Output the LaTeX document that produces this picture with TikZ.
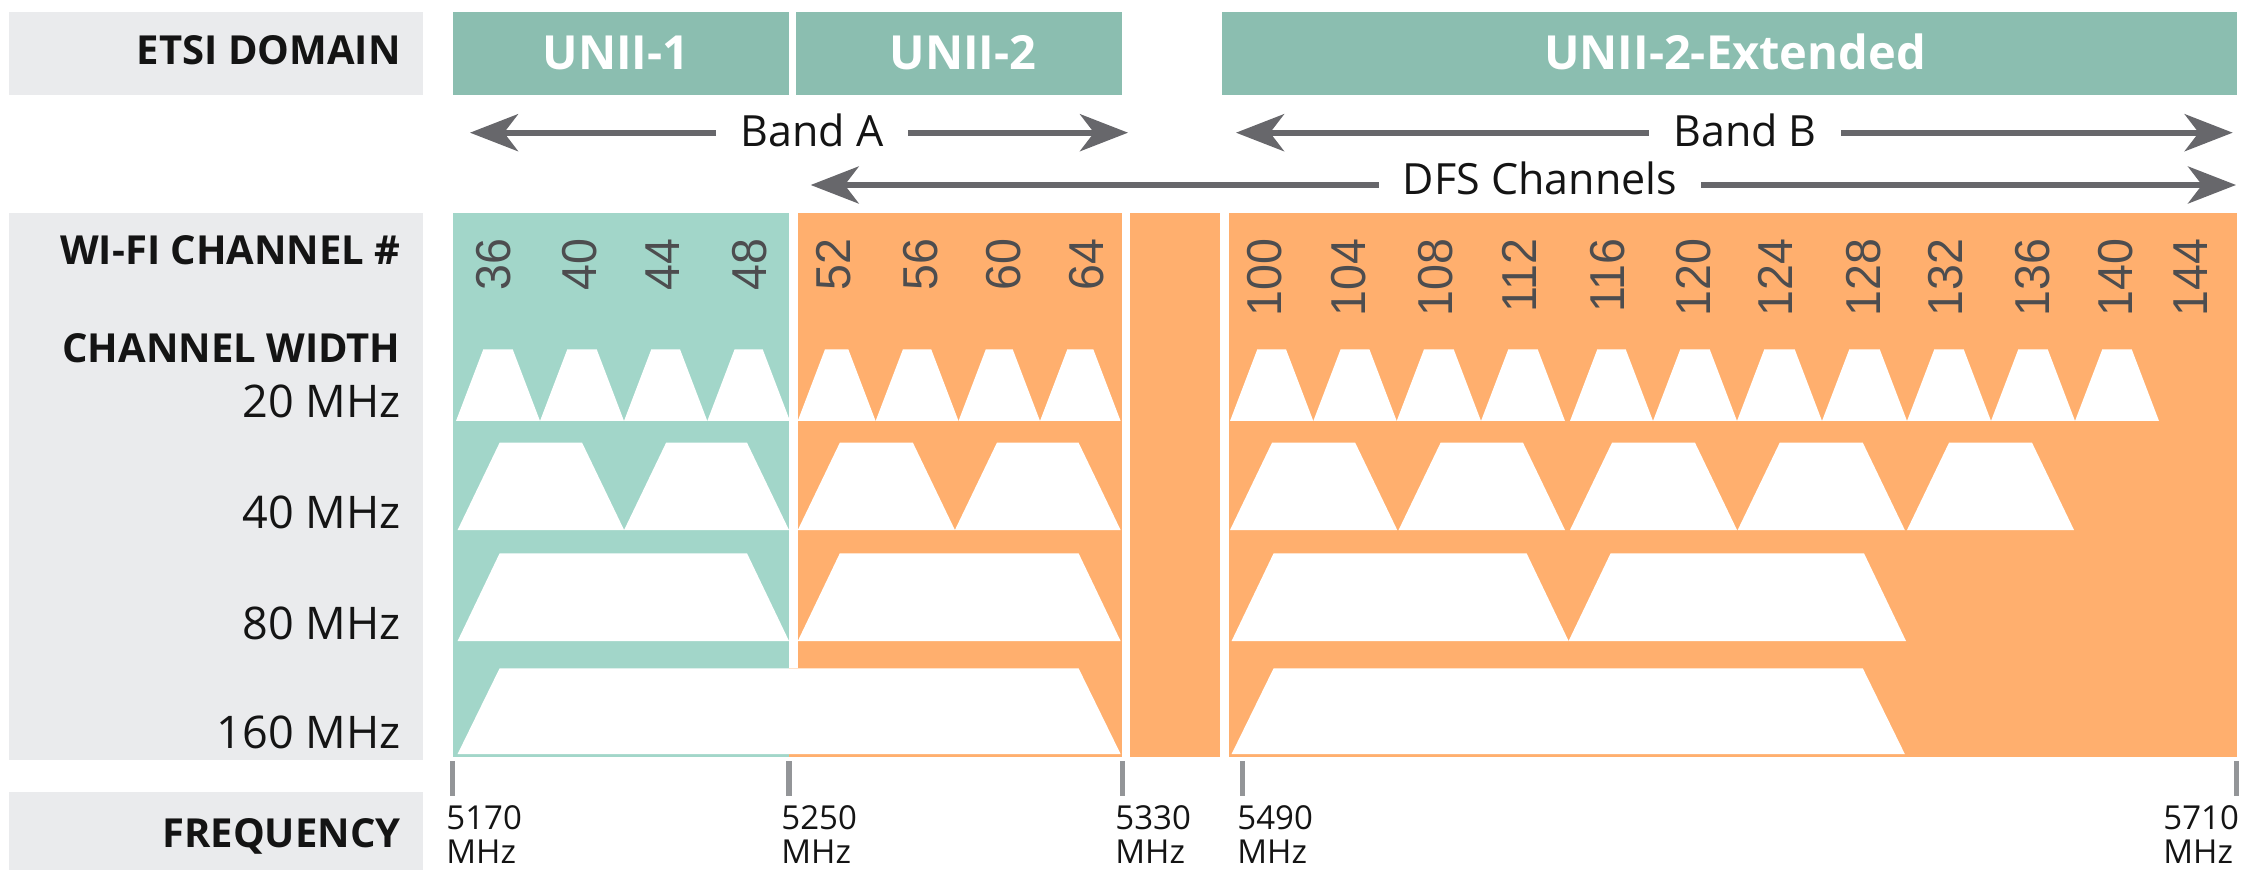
\documentclass[tikz,border=0pt]{standalone}
\usepackage{fontspec}
\setmainfont{Open Sans}
\newfontfamily\numfont{Liberation Sans}
\usetikzlibrary{arrows.meta}

\definecolor{hdrteal}{RGB}{139,190,176}
\definecolor{chteal}{RGB}{162,214,201}
\definecolor{chorange}{RGB}{255,175,110}
\definecolor{labelgrey}{RGB}{234,235,237}
\definecolor{arrowgrey}{RGB}{103,103,107}
\definecolor{tickgrey}{RGB}{147,149,152}
\definecolor{numgrey}{RGB}{77,77,79}
\definecolor{inkblack}{RGB}{20,20,20}

\tikzset{
  rowhead/.style={anchor=base east, inner sep=0pt, text=inkblack,
    font=\fontsize{20}{22}\selectfont\bfseries},
  rowunit/.style={anchor=base east, inner sep=0pt, text=inkblack,
    font=\fontsize{22.5}{24}\selectfont},
  domtext/.style={anchor=base, inner sep=0pt, text=white,
    font=\fontsize{23.5}{26}\selectfont\bfseries},
  bandtext/.style={anchor=base, inner ysep=0pt, inner xsep=12pt, text=inkblack,
    font=\fontsize{21.5}{23}\selectfont},
  bandarrow/.style={draw=arrowgrey, line width=2.9pt,
    -{Stealth[length=24pt, width=18.5pt, inset=7pt]}},
  chnum/.style={rotate=90, anchor=base east, inner sep=0pt, text=numgrey,
    font=\numfont\fontsize{24.5}{26}\selectfont},
  freqtext/.style={anchor=base west, inner sep=0pt, text=inkblack,
    font=\fontsize{16.5}{18}\selectfont},
  freqtick/.style={draw=tickgrey, line width=2.6pt},
}

\begin{document}
\begin{tikzpicture}[x=0.5pt, y=-0.5pt]
\useasboundingbox (0,0) rectangle (2249,871);

% grey label panels
\fill[labelgrey] (9,11.7) rectangle (422.5,95);
\fill[labelgrey] (9,213) rectangle (422.5,760);
\fill[labelgrey] (9,792.3) rectangle (422.5,870);

% regulatory domain headers
\fill[hdrteal] (452.7,11.7) rectangle (789.3,95);
\fill[hdrteal] (796,11.7) rectangle (1121.7,95);
\fill[hdrteal] (1221.7,11.7) rectangle (2236.7,95);
\node[domtext] (unii1) at (616,70) {UNII-1};
\node[domtext] (unii2) at (963,70) {UNII-2};
\node[domtext] (unii2e) at (1735,70) {UNII-2-Extended};

% row titles
\node[rowhead] (etsi) at (401,65) {ETSI DOMAIN};
\node[rowhead] (wifich) at (401,265) {WI-FI CHANNEL \#};
\node[rowhead] (chwidth) at (401,363) {CHANNEL WIDTH};
\node[rowunit] (w20) at (401,418) {20 MHz};
\node[rowunit] (w40) at (401,529) {40 MHz};
\node[rowunit] (w80) at (401,639) {80 MHz};
\node[rowunit] (w160) at (401,748) {160 MHz};
\node[rowhead] (freq) at (401,847) {FREQUENCY};

% band arrows
\coordinate (aL) at (470,132.7);
\coordinate (aR) at (1128,132.7);
\coordinate (bL) at (1236,132.7);
\coordinate (bR) at (2232.7,132.7);
\coordinate (dL) at (810.7,185);
\coordinate (dR) at (2236,185);
\node[bandtext] (bandA) at (812,146.7) {Band A};
\node[bandtext] (bandB) at (1745,146.7) {Band B};
\node[bandtext] (dfs) at (1540,195) {DFS Channels};
\draw[bandarrow] (bandA.west |- aL) -- (aL);
\draw[bandarrow] (bandA.east |- aR) -- (aR);
\draw[bandarrow] (bandB.west |- bL) -- (bL);
\draw[bandarrow] (bandB.east |- bR) -- (bR);
\draw[bandarrow] (dfs.west |- dL) -- (dL);
\draw[bandarrow] (dfs.east |- dR) -- (dR);

% channel grid backgrounds
\fill[chteal] (452.7,213.3) rectangle (789.3,756.7);
\fill[chorange] (797.7,213.3) rectangle (1121.7,756.7);
\fill[chorange] (789.3,668.3) rectangle (797.7,756.7);
\fill[chorange] (1130,213.3) rectangle (1220,756.7);
\fill[chorange] (1229,213.3) rectangle (2236.7,756.7);

% 20 MHz channels
\foreach \a/\b in {456/540, 540/624, 624/707.3, 707.3/790,
    797.7/875.6, 875.6/958.5, 958.5/1040, 1040/1120.6,
    1230/1313.3, 1313.3/1396.7, 1396.7/1481, 1481/1565,
    1570/1653, 1653/1737, 1737/1822, 1822/1907, 1907/1991, 1991/2075, 2075/2159}
  \fill[white] (\a,421) -- ({\a+27.3},349.3) -- ({\b-27.3},349.3) -- (\b,421) -- cycle;

% 40 MHz channels
\foreach \a/\b in {457.6/624.1, 624.1/789, 797.8/954.9, 954.9/1120.6,
    1230/1397.2, 1398.6/1565, 1570/1737, 1737.7/1904.8, 1907/2074}
  \fill[white] (\a,530) -- ({\a+42},442.7) -- ({\b-42},442.7) -- (\b,530) -- cycle;

% 80 MHz channels
\foreach \a/\b in {457.6/789, 797.8/1120.6, 1231.6/1568.6, 1568.6/1906}
  \fill[white] (\a,641) -- ({\a+42},553.3) -- ({\b-42},553.3) -- (\b,641) -- cycle;

% 160 MHz channels
\foreach \a/\b in {457.6/1120.6, 1231.6/1904.8}
  \fill[white] (\a,754) -- ({\a+42},668.3) -- ({\b-42},668.3) -- (\b,754) -- cycle;

% channel numbers
\foreach \n/\x in {36/510, 40/596, 44/679.3, 48/766.7, 52/850, 56/937, 60/1020, 64/1103,
    100/1281, 104/1365, 108/1452, 112/1536, 116/1624, 120/1710, 124/1792, 128/1880,
    132/1962, 136/2049, 140/2132, 144/2207}
  \node[chnum] (ch\n) at (\x,238) {\scalebox{0.95}[1]{\n}};

% frequency scale
\foreach \x in {452.6, 789, 1122.7, 1242.3, 2236.7}
  \draw[freqtick] (\x,761) -- (\x,796);
\node[freqtext] (f5170) at (446,829.3) {5170};
\node[freqtext] (m5170) at (446,863.3) {MHz};
\node[freqtext] (f5250) at (781,829.3) {5250};
\node[freqtext] (m5250) at (781,863.3) {MHz};
\node[freqtext] (f5330) at (1115,829.3) {5330};
\node[freqtext] (m5330) at (1115,863.3) {MHz};
\node[freqtext] (f5490) at (1237,829.3) {5490};
\node[freqtext] (m5490) at (1237,863.3) {MHz};
\node[freqtext] (f5710) at (2163,829.3) {5710};
\node[freqtext] (m5710) at (2163,863.3) {MHz};
\end{tikzpicture}
\end{document}
